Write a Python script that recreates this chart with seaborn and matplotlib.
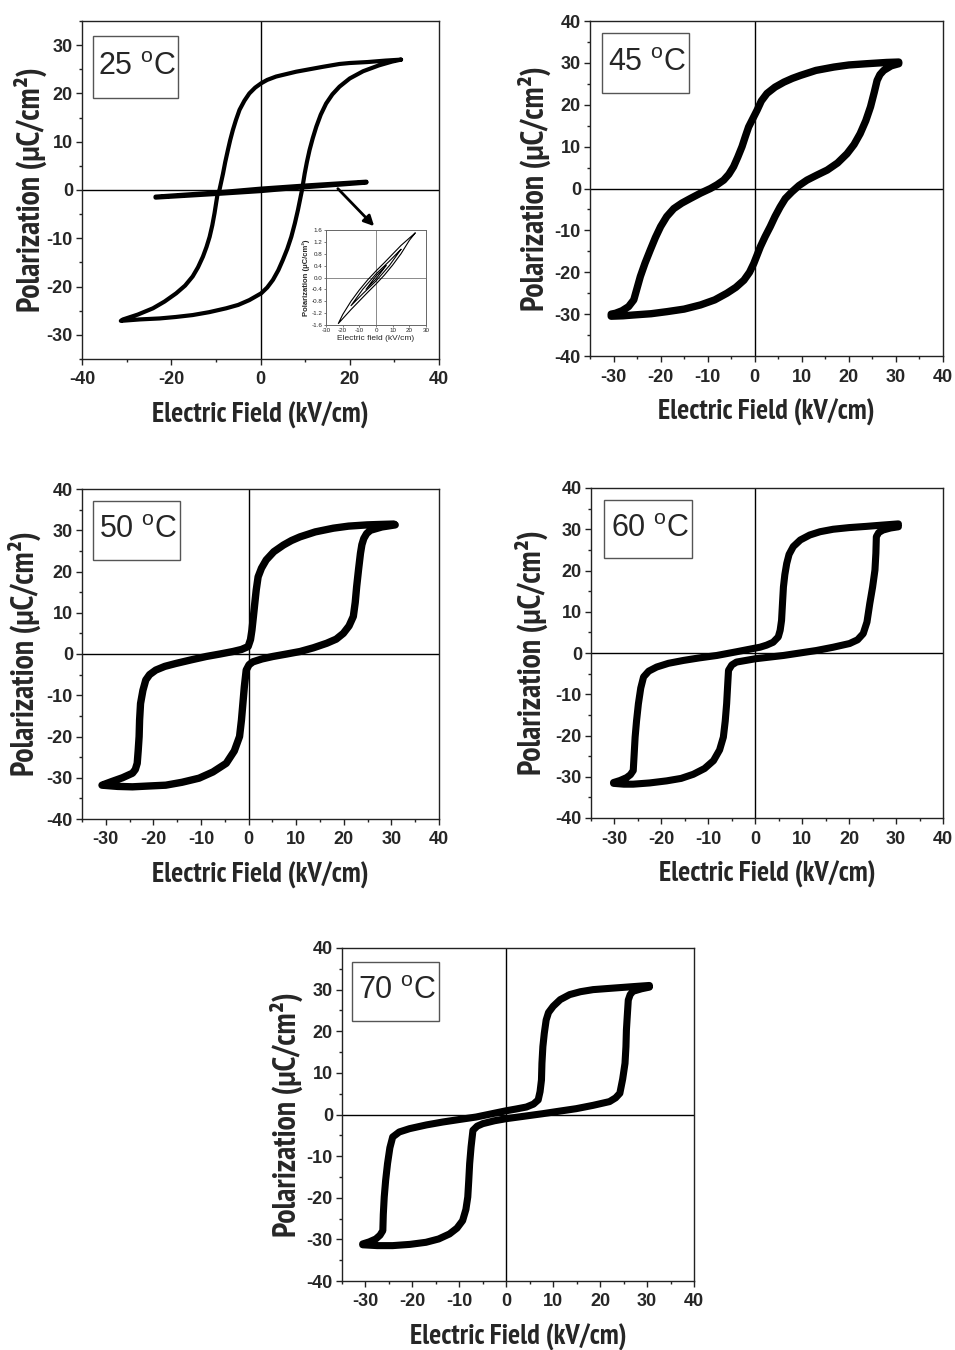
import numpy as np
import pandas as pd
import matplotlib
matplotlib.use("Agg")
import matplotlib.pyplot as plt
import seaborn as sns
from matplotlib import font_manager as fm
from matplotlib.patches import Rectangle
from matplotlib.ticker import MultipleLocator, FormatStrFormatter

# ---------------- data ----------------
# 25 C : ferroelectric loop (upper = descending branch, lower = ascending)
E25_up = [31.5, 28, 24, 20, 17.7, 13.9, 8, 3.5, 1.5, 0.15, -1.2, -2.5, -3.6, -4.7, -5.5, -6.2, -6.8, -7.3, -7.9, -8.4,
          -9.2, -9.6, -10.3, -10.8, -11.4, -12.1, -12.9, -14, -15.2, -16.9, -18.9, -21.5, -24.1, -27.5, -30.8, -31.3]
P25_up = [27.0, 26.8, 26.5, 26.3, 26.1, 25.5, 24.5, 23.5, 22.8, 22.1, 21.2, 20.0, 18.5, 16.6, 14.5, 12.4, 10.3, 8.3, 5.8, 3.4,
          0.0, -0.7, -4.8, -7.3, -9.7, -11.8, -13.8, -16.0, -17.9, -19.8, -21.4, -23.1, -24.5, -25.8, -26.8, -27.1]
E25_lo = [-31.3, -27, -22.6, -19, -15.2, -11.5, -7.7, -5, -2.5, 0.15, 1.5, 2.8, 4, 5, 6, 6.9, 7.7, 8.4, 9.3, 9.9,
          10.4, 11, 11.7, 12.5, 13.5, 14.7, 16.1, 17.7, 20, 23, 26.5, 29.5, 31.5]
P25_lo = [-27.1, -26.8, -26.6, -26.3, -25.9, -25.3, -24.5, -23.8, -22.8, -21.4, -20.2, -18.6, -16.6, -14.5, -12.2, -9.7, -6.9, -4.1, 0.0, 3.4,
          5.8, 8.3, 10.7, 13.1, 15.6, 17.9, 19.8, 21.4, 23.1, 24.6, 25.8, 26.6, 27.0]
# 25 C : linear (low-field) loop
E25L_up = [23.7, 10, 0, -10, -23.5]
P25L_up = [1.7, 0.9, 0.25, -0.55, -1.4]
E25L_lo = [-23.5, -10, 0, 10, 23.7]
P25L_lo = [-1.55, -0.8, -0.2, 0.6, 1.55]

# inset loops (low field)
Ein1 = [23.5, 15, 5, 0, -5, -10, -15, -20, -22.6, -15, -5, 0, 5, 10, 15, 20, 23.5]
Pin1 = [1.5, 1.08, 0.5, 0.22, -0.08, -0.42, -0.8, -1.25, -1.55, -1.08, -0.5, -0.22, 0.08, 0.42, 0.8, 1.25, 1.5]
Ein2 = [15, 8, 0, -8, -15, -8, 0, 8, 15]
Pin2 = [0.95, 0.55, 0.12, -0.4, -0.95, -0.55, -0.12, 0.4, 0.95]
Ein3 = [6, 0, -6, 0, 6]
Pin3 = [0.4, 0.05, -0.4, -0.05, 0.4]

# 45 C
E45_up = [30.6, 28, 23.8, 20, 16.8, 13, 9.7, 8, 6.2, 4.3, 2.6, 1.4, 0.5, -0.4, -1.3, -2.0, -2.7, -3.6, -4.5, -5.5,
          -6.6, -8.0, -9.4, -11.5, -13.7, -15.5, -17.2, -18.7, -20.0, -21.1, -22.2, -23.3, -24.3, -25.0, -25.7, -26.8,
          -28.2, -29.6, -30.5]
P45_up = [30.2, 30.1, 29.8, 29.5, 29.0, 28.2, 27.0, 26.3, 25.4, 24.2, 22.7, 20.9, 18.7, 16.7, 14.7, 12.4, 10.0, 7.5, 5.2, 3.4,
          2.0, 0.9, 0.0, -1.1, -2.4, -3.5, -4.8, -6.7, -9.1, -11.7, -14.7, -17.8, -21.0, -23.8, -26.6, -28.2,
          -29.2, -29.8, -30.0]
E45_lo = [-30.5, -28, -25.7, -22, -18.6, -15, -11.5, -8.5, -5.9, -4, -2.3, -1.1, -0.2, 0.5, 1.2, 2.2, 3.3, 4.3, 5.4, 6.5,
          7.9, 9.4, 11.1, 13.2, 15.4, 17.6, 19.6, 21.1, 22.4, 23.6, 24.6, 25.4, 26.0, 26.6, 27.4, 29, 30.6]
P45_lo = [-30.5, -30.4, -30.2, -29.9, -29.4, -28.8, -27.8, -26.6, -25.0, -23.6, -21.9, -20.0, -17.9, -15.9, -13.9, -11.5, -9.1, -6.7, -4.4, -2.4,
          -0.8, 0.7, 2.0, 3.2, 4.4, 6.1, 8.3, 10.5, 13.1, 16.2, 19.5, 23.0, 25.8, 27.2, 28.2, 29.3, 29.8]

# 50 C
E50_up = [30.5, 27.5, 24.9, 21, 17.8, 14, 10.8, 9, 7.3, 5.3, 3.7, 2.7, 2.0, 1.6, 1.3, 1.0, 0.7, 0.4, -0.1, -1.5,
          -3.3, -6, -8.9, -12, -15.3, -17.6, -19.5, -20.8, -21.6, -22.2, -22.7, -22.9, -23.0, -23.2, -23.4, -23.8,
          -24.4, -26.5, -28.7, -30.8]
P50_up = [31.5, 31.4, 31.3, 31.0, 30.5, 29.6, 28.4, 27.5, 26.4, 24.8, 22.8, 20.8, 18.7, 15.5, 12.3, 9.0, 5.8, 3.5, 1.8, 1.1,
          0.6, 0.0, -0.6, -1.4, -2.3, -3.0, -3.9, -5.0, -6.3, -8.8, -12.0, -16.0, -20.0, -23.5, -26.5, -28.0,
          -28.9, -30.0, -30.9, -31.8]
E50_lo = [-30.8, -27.5, -24.4, -21, -17.4, -14, -10.4, -7.5, -4.7, -3.0, -1.9, -1.5, -1.2, -0.9, -0.5, 0.1, 0.9, 2.8, 5.1, 8,
          10.8, 13.6, 16.4, 18.4, 19.9, 21.1, 22.0, 22.4, 22.7, 23.1, 23.5, 23.8, 24.2, 24.8, 25.6, 28, 30.8]
P50_lo = [-31.8, -32.1, -32.2, -32.0, -31.8, -31.1, -30.1, -28.6, -26.5, -23.5, -20.0, -16.0, -12.0, -8.0, -3.9, -2.6, -1.9, -1.2, -0.6, 0.0,
          0.6, 1.5, 2.6, 3.6, 5.0, 6.8, 9.1, 12.5, 16.3, 20.5, 24.4, 26.5, 28.0, 29.2, 30.0, 30.8, 31.3]

# 60 C
E60_up = [30.5, 27, 23.7, 20, 16.6, 13.8, 11.6, 9.6, 8.1, 7.2, 6.7, 6.3, 6.0, 5.8, 5.6, 5.3, 4.9, 3.8, 2.4, 1,
          -0.4, -4, -8.2, -12, -15.3, -18.5, -21.0, -22.7, -23.8, -24.4, -24.9, -25.3, -25.6, -25.8, -26.0, -26.6,
          -27.4, -28.8, -30.2]
P60_up = [31.3, 31.0, 30.7, 30.4, 30.0, 29.4, 28.6, 27.4, 25.8, 23.9, 21.7, 19.0, 16.0, 12.0, 7.9, 5.5, 3.9, 2.6, 1.9, 1.4,
          1.1, 0.3, -0.6, -1.2, -1.8, -2.5, -3.4, -4.4, -5.8, -8.5, -12.3, -16.5, -20.4, -24.5, -28.5, -29.5,
          -30.2, -30.9, -31.4]
E60_lo = [-30.2, -28, -26.0, -22.5, -18.9, -15.8, -13.2, -10.8, -8.9, -7.6, -6.8, -6.4, -6.1, -5.9, -5.7, -5.0, -4.0, -2, 0.0, 3,
          6.0, 9.5, 13.0, 16.6, 20.1, 21.8, 23.0, 23.8, 24.4, 25.0, 25.5, 25.7, 25.8, 26.3, 27.2, 28.8, 30.5]
P60_lo = [-31.6, -31.8, -31.8, -31.5, -31.0, -30.4, -29.4, -28.0, -26.1, -23.5, -20.4, -16.5, -12.3, -8.2, -4.2, -2.9, -2.2, -1.8, -1.4, -1.0,
          -0.6, 0.0, 0.6, 1.4, 2.3, 3.2, 4.7, 7.5, 12.0, 16.0, 20.1, 24.2, 28.2, 29.2, 29.8, 30.3, 30.6]

# 70 C
E70_up = [30.5, 28, 25.6, 22, 18.5, 15.8, 13.5, 11.5, 10.0, 9.0, 8.5, 8.1, 7.8, 7.6, 7.5, 7.2, 6.8, 5.8, 4.3, 2,
          0.0, -3, -6.4, -10, -13.5, -17, -20.6, -22.8, -24.2, -24.8, -25.3, -25.7, -26.0, -26.2, -26.3, -26.9,
          -27.8, -29.2, -30.6]
P70_up = [31.0, 30.8, 30.6, 30.3, 30.0, 29.5, 28.8, 27.6, 26.0, 24.5, 22.7, 19.5, 16.3, 12.3, 8.3, 5.5, 3.5, 2.5, 1.8, 1.3,
          0.9, 0.2, -0.6, -1.2, -1.8, -2.5, -3.4, -4.2, -5.4, -8.0, -11.8, -15.8, -19.8, -24.0, -27.9, -29.0,
          -29.9, -30.6, -31.1]
E70_lo = [-30.6, -27.5, -24.2, -20.5, -17.1, -14.4, -12.1, -10.5, -9.3, -8.6, -8.2, -8.0, -7.8, -7.5, -7.1, -6.2, -5.0, -2.5, 0.0, 3.9,
          7.8, 11.3, 14.9, 18.5, 22.0, 23.3, 24.2, 24.8, 25.3, 25.5, 25.6, 25.8, 26.0, 26.4, 27.0, 28.8, 30.5]
P70_lo = [-31.3, -31.5, -31.5, -31.2, -30.7, -29.9, -28.7, -27.3, -25.5, -22.8, -19.8, -16.0, -11.8, -7.8, -3.8, -2.8, -2.2, -1.5, -1.0, -0.4,
          0.2, 0.8, 1.4, 2.2, 3.1, 4.0, 5.1, 8.5, 12.3, 16.3, 20.3, 24.0, 27.5, 28.8, 29.6, 30.2, 30.6]

temps = ["25", "45", "50", "60", "70"]
x_label = "Electric Field (kV/cm)"
y_label = "Polarization (\u03bcC/cm\u00b2)"

# ---------------- fonts ----------------
sns.set_style("ticks")
ttf = fm.fontManager.ttflist
names = {f.name for f in ttf}
base = "Liberation Sans" if "Liberation Sans" in names else "DejaVu Sans"
narrow = base
for c in ["Liberation Sans Narrow", "Arial Narrow", "Nimbus Sans Narrow", "Archivo Narrow", "PT Sans Narrow",
          "Roboto Condensed", "Open Sans Condensed", "IBM Plex Sans Condensed", "Fira Sans Condensed",
          "Encode Sans Condensed", "Barlow Semi Condensed"]:
    if any(f.name == c and f.weight in (600, 700, "bold", "semibold") for f in ttf):
        narrow = c
        break
plt.rcParams["font.family"] = [base, "DejaVu Sans"]
plt.rcParams["mathtext.default"] = "regular"
plt.rcParams["axes.unicode_minus"] = False

W, H = 955, 1350
fig = plt.figure(figsize=(W / 100, H / 100), dpi=100)


def rect(l, t, r, b):
    return [l / W, 1 - b / H, (r - l) / W, (b - t) / H]


def loop(ax, E, P, lw):
    df = pd.DataFrame({"E": E, "P": P})
    sns.lineplot(data=df, x="E", y="P", sort=False, estimator=None, color="black",
                 linewidth=lw, ax=ax, zorder=3, solid_joinstyle="round", solid_capstyle="round")


def style(ax, xlim, xmaj, ylim, ymaj, hpx, wpx, ylab_off):
    ax.set_xlim(*xlim)
    ax.set_ylim(*ylim)
    ax.xaxis.set_major_locator(MultipleLocator(xmaj))
    ax.xaxis.set_minor_locator(MultipleLocator(xmaj / 2))
    ax.yaxis.set_major_locator(MultipleLocator(ymaj))
    ax.yaxis.set_minor_locator(MultipleLocator(ymaj / 2))
    ax.axhline(0, color="black", lw=1.0, zorder=1)
    ax.axvline(0, color="black", lw=1.0, zorder=1)
    for s in ax.spines.values():
        s.set_color("#222222")
        s.set_linewidth(1.0)
    ax.tick_params(which="both", direction="out", top=False, right=False, width=1.0,
                   color="#222222")
    ax.tick_params(which="major", length=4.5, labelsize=13)
    ax.tick_params(axis="x", which="major", pad=4.5)
    ax.tick_params(axis="y", which="major", pad=2)
    ax.tick_params(which="minor", length=2.5)
    for lab in ax.get_xticklabels() + ax.get_yticklabels():
        lab.set_fontweight("bold")
    ax.set_xlabel(x_label, fontsize=18, fontweight="bold", family=[narrow, "DejaVu Sans"])
    ax.set_ylabel(y_label, fontsize=18, fontweight="bold", family=[narrow, "DejaVu Sans"])
    ax.xaxis.set_label_coords(0.5, -56 / hpx)
    ax.xaxis.label.set_va("center")
    ax.yaxis.set_label_coords(-ylab_off / wpx, 0.5)
    ax.yaxis.label.set_va("center")


def tbox(ax, t, x0, x1, y0, y1):
    ax.add_patch(Rectangle((x0, y0), x1 - x0, y1 - y0, transform=ax.transAxes, fill=False,
                           edgecolor="#555555", lw=1.0, zorder=4))
    ax.text((x0 + x1) / 2 + 0.005, (y0 + y1) / 2, t + r" $^{o}$C", transform=ax.transAxes,
            ha="center", va="center", fontsize=22, zorder=5)


panels = [
    (temps[0], (82, 21, 439, 359), (-40, 40), 20, (-35, 35), (0.031, 0.269, 0.772, 0.956), 52),
    (temps[1], (590, 21, 943, 356), (-35, 40), 10, (-40, 40), (0.034, 0.280, 0.785, 0.964), 56),
    (temps[2], (82, 489, 439, 819), (-35, 40), 10, (-40, 40), (0.031, 0.275, 0.785, 0.964), 58),
    (temps[3], (591, 488, 943, 818), (-35, 40), 10, (-40, 40), (0.037, 0.287, 0.788, 0.964), 60),
    (temps[4], (342, 948, 694, 1281), (-35, 40), 10, (-40, 40), (0.028, 0.276, 0.781, 0.958), 56),
]
loops = {
    "25": [(E25_up + E25_lo, P25_up + P25_lo, 3.0), (E25L_up + E25L_lo, P25L_up + P25L_lo, 3.2)],
    "45": [(E45_up + E45_lo, P45_up + P45_lo, 5.3)],
    "50": [(E50_up + E50_lo, P50_up + P50_lo, 5.3)],
    "60": [(E60_up + E60_lo, P60_up + P60_lo, 5.1)],
    "70": [(E70_up + E70_lo, P70_up + P70_lo, 5.1)],
}

axes = {}
for t, (l, tp, r, b), xl, xm, yl, bx, yoff in panels:
    ax = fig.add_axes(rect(l, tp, r, b))
    for E, P, lw in loops[t]:
        loop(ax, E, P, lw)
    style(ax, xl, xm, yl, 10, b - tp, r - l, yoff)
    tbox(ax, t, *bx)
    axes[t] = ax

# arrow in 25 C panel
axes["25"].annotate("", xy=(25.9, -7.9), xytext=(16.9, 0.7),
                    arrowprops=dict(arrowstyle="-|>", color="black", lw=2.0,
                                    mutation_scale=15), zorder=6)

# inset
ai = fig.add_axes(rect(326, 230, 426, 325))
for E, P in [(Ein1, Pin1), (Ein2, Pin2), (Ein3, Pin3)]:
    df = pd.DataFrame({"E": E, "P": P})
    sns.lineplot(data=df, x="E", y="P", sort=False, estimator=None, color="black",
                 linewidth=0.8, ax=ai, zorder=3)
ai.set_xlim(-30, 30)
ai.set_ylim(-1.6, 1.6)
ai.xaxis.set_major_locator(MultipleLocator(10))
ai.yaxis.set_major_locator(MultipleLocator(0.4))
ai.yaxis.set_major_formatter(FormatStrFormatter("%.1f"))
ai.axhline(0, color="#777777", lw=0.6, zorder=1)
ai.axvline(0, color="#777777", lw=0.6, zorder=1)
for s in ai.spines.values():
    s.set_color("#666666")
    s.set_linewidth(0.7)
ai.tick_params(which="both", direction="out", top=False, right=False, length=1.5, width=0.6,
               pad=1, labelsize=4.5, color="#666666")
ai.set_xlabel("Electric field (kV/cm)", fontsize=6, labelpad=1)
ai.set_ylabel("Polarization (\u03bcC/cm\u00b2)", fontsize=5.5, fontweight="bold", labelpad=1)

# fit the axis-label font size to the reference label lengths
fig.canvas.draw()
rnd = fig.canvas.get_renderer()
a0 = axes["45"]
wx = a0.xaxis.label.get_window_extent(rnd).width
hy = a0.yaxis.label.get_window_extent(rnd).height
fx = 18 * 217 / wx
fy = 18 * 246 / hy
for ax in axes.values():
    ax.xaxis.label.set_fontsize(fx)
    ax.yaxis.label.set_fontsize(fy)

fig.savefig("out.png", dpi=100)
